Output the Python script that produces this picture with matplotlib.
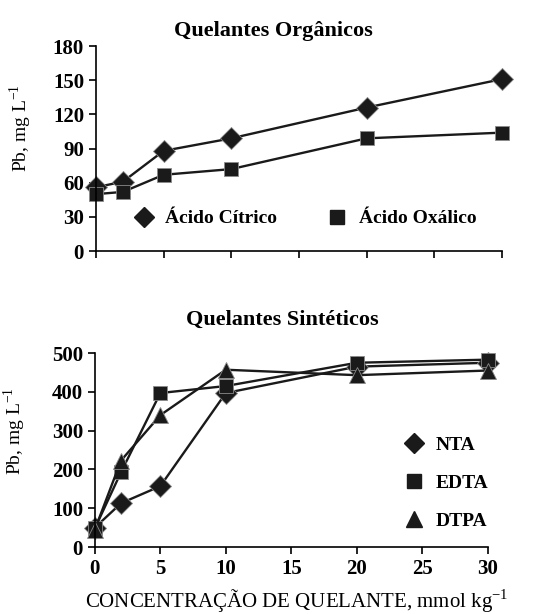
import matplotlib
matplotlib.use('Agg')
import matplotlib.pyplot as plt
from matplotlib.lines import Line2D

# concentração de quelante (mmol/kg)
conc = [0, 2, 5, 10, 20, 30]

# quelantes orgânicos
citrico = [56, 61, 88, 99, 126, 151]
oxalico = [50, 52, 67, 72, 99, 104]

# quelantes sintéticos
nta = [50, 113, 157, 397, 465, 475]
edta = [48, 193, 397, 415, 475, 483]
dtpa = [45, 223, 340, 457, 443, 455]

plt.rcParams['font.family'] = ['Liberation Serif', 'DejaVu Serif']

fig = plt.figure(figsize=(5.45, 6.14), dpi=100)
ax1 = fig.add_axes([0.176, 0.591, 0.745, 0.334])
ax2 = fig.add_axes([0.174, 0.109, 0.721, 0.316])

mk = dict(color='#1a1a1a', lw=1.7, markeredgecolor='#8a8a8a', markeredgewidth=0.6)
sizes = {'D': 11, 's': 10.5, '^': 12}


def handles(markers, labels):
    return [Line2D([], [], ls='none', marker=m, color='#1a1a1a', markersize=sizes[m] - 1,
                   label=l) for m, l in zip(markers, labels)]


ax1.plot(conc, citrico, marker='D', markersize=sizes['D'], **mk)
ax1.plot(conc, oxalico, marker='s', markersize=sizes['s'], **mk)
ax1.set_xlim(0, 30)
ax1.set_ylim(0, 180)
ax1.set_yticks(range(0, 181, 30))
ax1.set_xticks(range(0, 31, 5))
ax1.set_xticklabels([])
ax1.set_title('Quelantes Orgânicos', fontsize=16, fontweight='bold', pad=7, x=0.438)
ax1.set_ylabel('Pb, mg L$^{\\mathregular{-1}}$', fontsize=14)
ax1.yaxis.set_label_coords(-0.153, 0.6)
ax1.legend(handles=handles(['D', 's'], ['Ácido Cítrico', 'Ácido Oxálico']),
           loc='lower center', bbox_to_anchor=(0.515, 0.03), ncol=2, frameon=False,
           prop={'weight': 'bold', 'size': 14}, handlelength=1.0, columnspacing=2.6,
           handletextpad=0.6)

ax2.plot(conc, nta, marker='D', markersize=sizes['D'], **mk)
ax2.plot(conc, edta, marker='s', markersize=sizes['s'], **mk)
ax2.plot(conc, dtpa, marker='^', markersize=sizes['^'], **mk)
ax2.set_xlim(0, 30)
ax2.set_ylim(0, 500)
ax2.set_yticks(range(0, 501, 100))
ax2.set_xticks(range(0, 31, 5))
ax2.set_title('Quelantes Sintéticos', fontsize=16, fontweight='bold', pad=20, x=0.476)
ax2.set_ylabel('Pb, mg L$^{\\mathregular{-1}}$', fontsize=14)
ax2.yaxis.set_label_coords(-0.17, 0.6)
ax2.set_xlabel('CONCENTRAÇÃO DE QUELANTE, mmol kg$^{\\mathregular{-1}}$', fontsize=15,
               labelpad=6, x=0.514)
ax2.legend(handles=handles(['D', 's', '^'], ['NTA', 'EDTA', 'DTPA']),
           loc='lower right', bbox_to_anchor=(1.045, 0.0), frameon=False,
           prop={'weight': 'bold', 'size': 14}, handlelength=1.0, labelspacing=1.05,
           handletextpad=0.6)

for ax in (ax1, ax2):
    for s in ('top', 'right'):
        ax.spines[s].set_visible(False)
    ax.spines['left'].set_linewidth(1.2)
    ax.spines['bottom'].set_linewidth(1.2)
    ax.tick_params(direction='out', length=5, width=1.2, labelsize=15)
    for lab in ax.get_yticklabels() + ax.get_xticklabels():
        lab.set_fontweight('bold')
    for line in ax.get_lines():
        line.set_clip_on(False)

fig.savefig('out.png', dpi=100)
